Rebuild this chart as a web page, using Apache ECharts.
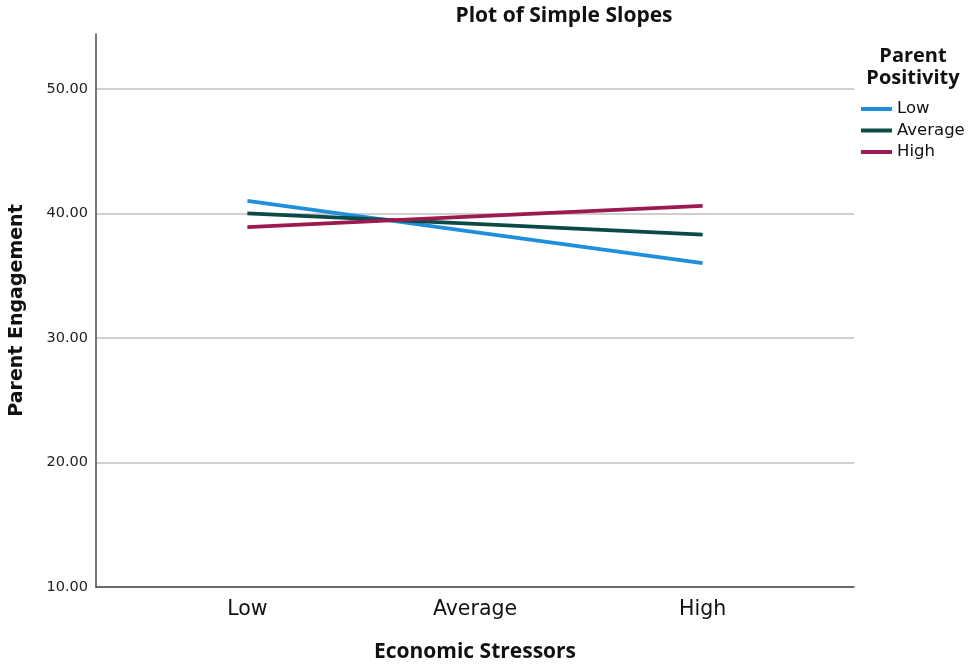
<!DOCTYPE html>
<html>
<head>
<meta charset="utf-8">
<script src="https://cdn.jsdelivr.net/npm/echarts@6/dist/echarts.min.js"></script>
<style>
  html, body { margin: 0; padding: 0; background: #fff; }
  #chart { width: 971px; height: 664px; }
</style>
</head>
<body>
<div id="chart"></div>
<script>
// 数据
var categories = ['Low', 'Average', 'High']
var xValues = [1, 2, 3]
var seriesNames = ['Low', 'Average', 'High']
var lowValues = [41.0, 38.5, 36.0]
var averageValues = [40.0, 39.15, 38.3]
var highValues = [38.9, 39.75, 40.6]
var yTicks = [10, 20, 30, 40, 50]

var colors = ['#1f8fdb', '#0b4a45', '#9c1a50']

function pairs (vals) {
  return vals.map(function (v, i) { return [xValues[i], v] })
}

var myChart = echarts.init(document.getElementById('chart'))

myChart.setOption({
  animation: false,
  color: colors,
  title: [
    {
      text: 'Plot of Simple Slopes',
      left: 559,
      top: 1,
      textAlign: 'center',
      textStyle: { fontFamily: 'Open Sans', fontWeight: 'bold', fontSize: 21, color: '#111' }
    },
    {
      text: 'Parent\nPositivity',
      left: 908,
      top: 40,
      textAlign: 'center',
      textStyle: { fontFamily: 'Open Sans', fontWeight: 'bold', fontSize: 20, lineHeight: 22, color: '#111' }
    }
  ],
  legend: {
    orient: 'vertical',
    left: 856,
    top: 95,
    icon: 'rect',
    itemWidth: 31,
    itemHeight: 4,
    itemGap: 3.5,
    data: seriesNames,
    textStyle: { fontFamily: 'DejaVu Sans', fontSize: 16.5, lineHeight: 18, color: '#111' }
  },
  grid: { left: 96, right: 117, top: 34, bottom: 77, outerBoundsMode: 'none', containLabel: false },
  xAxis: {
    type: 'value',
    min: 0.335,
    max: 3.665,
    name: 'Economic Stressors',
    nameLocation: 'middle',
    nameGap: 55,
    nameTextStyle: { fontFamily: 'Open Sans', fontWeight: 'bold', fontSize: 21, color: '#111' },
    axisLine: { lineStyle: { color: '#4a4a4a', width: 1.5 } },
    axisTick: { show: false },
    splitLine: { show: false },
    axisLabel: {
      customValues: xValues,
      margin: 12,
      fontFamily: 'DejaVu Sans',
      fontSize: 20.5,
      color: '#111',
      formatter: function (v) {
        var i = xValues.indexOf(v)
        return i >= 0 ? categories[i] : ''
      }
    }
  },
  yAxis: {
    type: 'value',
    min: 10,
    max: 54.4,
    interval: 10,
    name: 'Parent Engagement',
    nameLocation: 'middle',
    nameGap: 69,
    nameTextStyle: { fontFamily: 'DejaVu Sans', fontWeight: 'bold', fontSize: 19, color: '#111' },
    axisLine: { show: true, lineStyle: { color: '#4a4a4a', width: 1.5 } },
    axisTick: { show: false },
    splitLine: { show: true, showMaxLine: false, lineStyle: { color: '#cfcfcf', width: 2 } },
    axisLabel: {
      customValues: yTicks,
      margin: 8,
      fontFamily: 'DejaVu Sans',
      fontSize: 14.5,
      color: '#222',
      formatter: function (v) { return v.toFixed(2) }
    }
  },
  series: [
    { name: seriesNames[0], type: 'line', data: pairs(lowValues), symbol: 'none', lineStyle: { width: 3.8 } },
    { name: seriesNames[1], type: 'line', data: pairs(averageValues), symbol: 'none', lineStyle: { width: 3.8 } },
    { name: seriesNames[2], type: 'line', data: pairs(highValues), symbol: 'none', lineStyle: { width: 3.8 } }
  ]
})
</script>
</body>
</html>
